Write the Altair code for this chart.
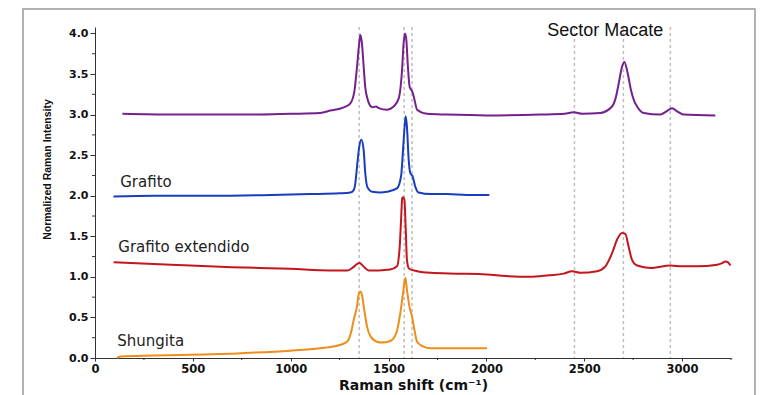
import altair as alt
import pandas as pd

# ---- data ----
series_names = ["Sector Macate", "Grafito", "Grafito extendido", "Shungita"]
series_colors = ["#74208f", "#1a3cc0", "#c4161c", "#f08c1a"]

macate_x = [140, 400, 800, 1000, 1150, 1203, 1271, 1305, 1325, 1339, 1352, 1356, 1364, 1373,
            1381, 1393, 1410, 1419, 1436, 1450, 1492, 1526, 1552, 1569, 1577, 1584, 1591, 1598,
            1608, 1622, 1632, 1646, 1697, 1800, 2000, 2276, 2400, 2446, 2490, 2582, 2642, 2660,
            2676, 2693, 2705, 2722, 2739, 2755, 2770, 2804, 2889, 2920, 2949, 2975, 3008, 3170]
macate_y = [3.01, 3.00, 3.00, 3.01, 3.02, 3.05, 3.09, 3.14, 3.28, 3.59, 3.92, 3.98, 3.88, 3.59,
            3.34, 3.19, 3.10, 3.09, 3.10, 3.08, 3.06, 3.10, 3.20, 3.55, 3.88, 4.00, 3.92, 3.63,
            3.34, 3.28, 3.19, 3.06, 3.01, 3.00, 2.99, 3.00, 3.01, 3.03, 3.01, 3.02, 3.10, 3.20,
            3.38, 3.59, 3.65, 3.51, 3.30, 3.17, 3.10, 3.02, 3.00, 3.04, 3.08, 3.04, 3.00, 2.99]

grafito_x = [94, 300, 600, 900, 1100, 1250, 1305, 1322, 1330, 1339, 1350, 1361, 1373, 1381,
             1393, 1416, 1460, 1492, 1543, 1564, 1574, 1582, 1588, 1594, 1603, 1611, 1623, 1637,
             1654, 1714, 1800, 1900, 2015]
grafito_y = [1.99, 2.00, 2.00, 2.01, 2.02, 2.03, 2.04, 2.07, 2.15, 2.36, 2.60, 2.69, 2.56, 2.28,
             2.10, 2.05, 2.04, 2.05, 2.09, 2.24, 2.56, 2.85, 2.98, 2.85, 2.44, 2.28, 2.24, 2.11,
             2.04, 2.02, 2.02, 2.01, 2.01]

extendido_x = [95, 300, 487, 700, 998, 1200, 1290, 1320, 1340, 1352, 1364, 1380, 1398, 1450,
               1509, 1543, 1557, 1564, 1570, 1574, 1581, 1588, 1594, 1605, 1646, 1714, 1850,
               2000, 2100, 2225, 2320, 2395, 2438, 2480, 2566, 2608, 2642, 2668, 2693, 2710,
               2727, 2744, 2770, 2838, 2940, 3000, 3077, 3179, 3205, 3221, 3235, 3247]
extendido_y = [1.18, 1.16, 1.14, 1.12, 1.10, 1.08, 1.08, 1.12, 1.16, 1.17, 1.15, 1.11, 1.08, 1.08,
               1.09, 1.13, 1.37, 1.70, 1.97, 1.98, 1.95, 1.58, 1.21, 1.10, 1.07, 1.05, 1.04,
               1.03, 1.01, 1.00, 1.02, 1.04, 1.07, 1.05, 1.07, 1.13, 1.29, 1.46, 1.54, 1.53,
               1.37, 1.21, 1.14, 1.11, 1.14, 1.13, 1.13, 1.15, 1.17, 1.19, 1.18, 1.14]

shungita_x = [112, 129, 300, 487, 750, 998, 1150, 1237, 1288, 1308, 1322, 1339, 1347, 1356,
              1364, 1376, 1390, 1407, 1441, 1467, 1509, 1540, 1560, 1574, 1586, 1594, 1608,
              1620, 1632, 1646, 1679, 1714, 1850, 2003]
shungita_y = [0.00, 0.02, 0.03, 0.04, 0.06, 0.09, 0.12, 0.15, 0.20, 0.31, 0.47, 0.64, 0.78, 0.82,
              0.78, 0.59, 0.39, 0.27, 0.20, 0.19, 0.21, 0.31, 0.55, 0.80, 0.99, 0.84, 0.62,
              0.51, 0.35, 0.20, 0.14, 0.12, 0.12, 0.12]

band_positions = [1350, 1580, 1620, 2450, 2700, 2940]

label_text = ["Grafito", "Grafito extendido", "Shungita"]
label_x = [129, 119, 114]
label_y = [2.11, 1.31, 0.15]

title_text = ["Sector Macate"]
title_x = [2311]
title_y = [3.97]

x_major = [0, 500, 1000, 1500, 2000, 2500, 3000]
x_minor = [250, 750, 1250, 1750, 2250, 2750, 3250]
y_major = [0.0, 0.5, 1.0, 1.5, 2.0, 2.5, 3.0, 3.5, 4.0]
y_minor = [0.25, 0.75, 1.25, 1.75, 2.25, 2.75, 3.25, 3.75]

# ---- build tables ----
rows = []
for name, xs_, ys_ in [("Sector Macate", macate_x, macate_y),
                       ("Grafito", grafito_x, grafito_y),
                       ("Grafito extendido", extendido_x, extendido_y),
                       ("Shungita", shungita_x, shungita_y)]:
    for i, (a, b) in enumerate(zip(xs_, ys_)):
        rows.append({"series": name, "shift": a, "intensity": b, "i": i})
df = pd.DataFrame(rows)

W, H = 636, 331
xs = alt.Scale(domain=[0, 3250], nice=False, zero=False)
ys = alt.Scale(domain=[0, 4.08], nice=False, zero=False)

x_axis = alt.Axis(
    title="Raman shift (cm⁻¹)", values=x_major, format="d", grid=False,
    domainColor="#333", domainWidth=1, tickColor="#333", tickSize=3, tickWidth=1,
    labelFont="DejaVu Sans", labelFontWeight="bold", labelFontSize=11.5, labelColor="#111",
    labelPadding=2, labelFlush=False,
    titleFont="DejaVu Sans", titleFontWeight="bold", titleFontSize=14, titleColor="#111",
    titlePadding=4)
y_axis = alt.Axis(
    title="Normalized Raman Intensity", values=y_major, format=".1f", grid=False,
    domainColor="#333", domainWidth=1, tickColor="#333", tickSize=5, tickWidth=1,
    labelFont="DejaVu Sans", labelFontWeight="bold", labelFontSize=11, labelColor="#111",
    labelPadding=2, labelFlush=False,
    titleFont="Liberation Sans", titleFontWeight="bold", titleFontSize=10.5, titleColor="#111",
    titleAngle=270, titleX=-45, titleY=142, titleAlign="center", titleBaseline="alphabetic")

frame = alt.Chart(pd.DataFrame({"a": [0]})).mark_rect(
    filled=False, stroke="#9a9a9a", strokeWidth=1.5
).encode(x=alt.value(-72), x2=alt.value(660), y=alt.value(-18), y2=alt.value(420))

bands = alt.Chart(pd.DataFrame({"shift": band_positions})).mark_rule(
    color="#bdbdbd", strokeWidth=1.5, strokeDash=[3, 3]
).encode(x=alt.X("shift:Q", scale=xs, axis=x_axis))

lines = alt.Chart(df).mark_line(strokeWidth=2, interpolate="monotone").encode(
    x=alt.X("shift:Q", scale=xs, axis=x_axis),
    y=alt.Y("intensity:Q", scale=ys, axis=y_axis),
    color=alt.Color("series:N", scale=alt.Scale(domain=series_names, range=series_colors), legend=None),
    detail="series:N",
    order="i:Q",
)

labels = alt.Chart(pd.DataFrame({"t": label_text, "x": label_x, "y": label_y})).mark_text(
    align="left", baseline="alphabetic", font="DejaVu Sans", fontSize=15, color="#222"
).encode(x=alt.X("x:Q", scale=xs, axis=x_axis), y=alt.Y("y:Q", scale=ys, axis=y_axis), text="t:N")

title = alt.Chart(pd.DataFrame({"t": title_text, "x": title_x, "y": title_y})).mark_text(
    align="left", baseline="alphabetic", font="Liberation Sans", fontSize=18, color="#111"
).encode(x=alt.X("x:Q", scale=xs, axis=x_axis), y=alt.Y("y:Q", scale=ys, axis=y_axis), text="t:N")

xminor = alt.Chart(pd.DataFrame({"m": x_minor})).mark_rule(color="#333", strokeWidth=1).encode(
    x=alt.X("m:Q", scale=xs, axis=x_axis), y=alt.value(H), y2=alt.value(H + 2))

yminor = alt.Chart(pd.DataFrame({"m": y_minor})).mark_rule(color="#333", strokeWidth=1).encode(
    y=alt.Y("m:Q", scale=ys, axis=y_axis), x=alt.value(-3), x2=alt.value(0))

chart = alt.layer(frame, bands, lines, labels, title, xminor, yminor).properties(
    width=W, height=H,
    autosize=alt.AutoSizeParams(type="none"),
    padding={"left": 87, "top": 19, "right": 26, "bottom": 37},
).configure_view(stroke=None)

chart.save("out.html", embed_options={"renderer": "svg", "actions": False})
